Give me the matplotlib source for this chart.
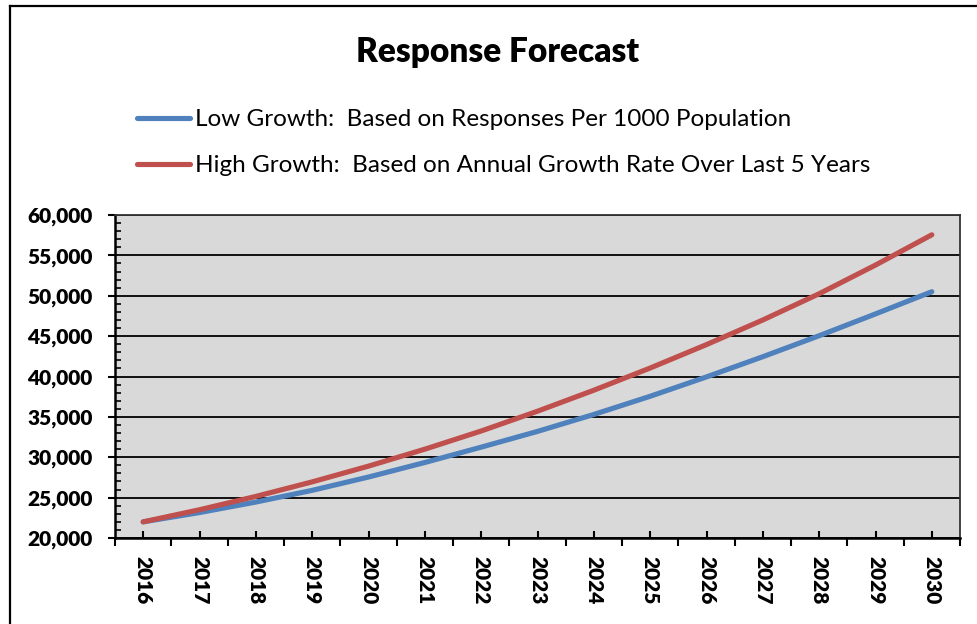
import numpy as np
import matplotlib
matplotlib.use("Agg")
from matplotlib import pyplot as plt
from matplotlib.lines import Line2D
from matplotlib.ticker import FuncFormatter, MultipleLocator

years = [str(y) for y in range(2016, 2031)]
low_growth = [22000, 23150, 24450, 25900, 27550, 29350, 31250, 33200,
              35300, 37550, 39950, 42450, 45050, 47750, 50500]
high_growth = [22000, 23500, 25150, 26950, 28900, 31000, 33250, 35700,
               38300, 41050, 43950, 47000, 50250, 53800, 57550]
labels = ["Low Growth:  Based on Responses Per 1000 Population",
          "High Growth:  Based on Annual Growth Rate Over Last 5 Years"]

plt.rcParams['font.family'] = ['Lato', 'DejaVu Sans']

W, H = 977, 624
fig = plt.figure(figsize=(W / 100, H / 100), dpi=100)

# outer chart frame (cropped at right/bottom)
fig.add_artist(Line2D([10 / W, 10 / W], [0, 1 - 6 / H], color='black', lw=1.6))
fig.add_artist(Line2D([10 / W, 1], [1 - 6 / H, 1 - 6 / H], color='black', lw=1.6))

ax = fig.add_axes([115 / W, 1 - 538 / H, (960 - 115) / W, (538 - 215) / H])
ax.set_facecolor('#D9D9D9')

x = np.arange(len(years))
ax.plot(x, low_growth, color='#4F81BD', lw=3.7, solid_capstyle='round', label=labels[0], zorder=3)
ax.plot(x, high_growth, color='#C0504D', lw=3.7, solid_capstyle='round', label=labels[1], zorder=3)

ax.set_xlim(-0.5, len(years) - 0.5)
ax.set_ylim(20000, 60000)
ax.yaxis.set_major_locator(MultipleLocator(5000))
ax.yaxis.set_minor_locator(MultipleLocator(1000))
ax.yaxis.set_major_formatter(FuncFormatter(lambda v, p: f"{int(v):,}"))
ax.grid(axis='y', which='major', color='black', lw=1.3)
ax.set_axisbelow(True)

ax.set_xticks(np.arange(-0.5, len(years)), minor=False)
ax.set_xticklabels([])
ax.set_xticks(x, minor=True)
ax.set_xticklabels(years, minor=True, rotation=270, fontweight='heavy', fontsize=15)
ax.tick_params(axis='x', which='major', direction='out', length=6, width=1.5)
ax.tick_params(axis='x', which='minor', direction='in', length=5, width=1.5, pad=13)
ax.tick_params(axis='y', which='major', direction='out', length=5, width=1.5, pad=11, labelsize=15)
ax.tick_params(axis='y', which='minor', direction='in', length=4, width=1.2)
for lab in ax.get_yticklabels():
    lab.set_fontweight('heavy')

for s in ['left', 'bottom']:
    ax.spines[s].set_linewidth(1.8)
for s in ['top', 'right']:
    ax.spines[s].set_linewidth(1.3)
    ax.spines[s].set_color('#333333')

fig.text(498 / W, 1 - 52 / H, "Response Forecast", ha='center', va='center',
         fontsize=24, fontweight='heavy')

fig.legend(loc='upper left', bbox_to_anchor=(137 / W, 1 - 109 / H), frameon=False,
           fontsize=17.5, handlelength=2.2, handletextpad=0.2, labelspacing=1.04,
           borderpad=0, borderaxespad=0)

fig.savefig('out.png', dpi=100)
